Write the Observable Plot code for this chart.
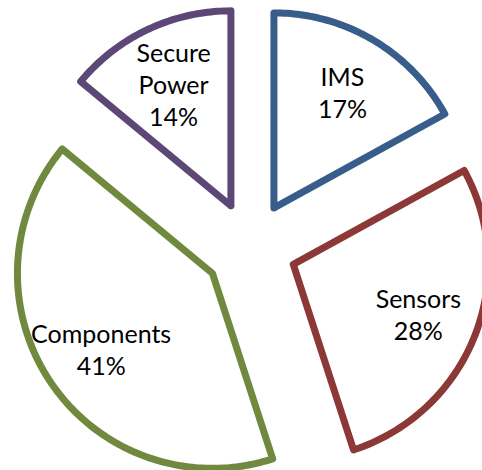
<!DOCTYPE html>
<html>
<head>
<meta charset="utf-8">
<script src="https://cdn.jsdelivr.net/npm/d3@7"></script>
<script src="https://cdn.jsdelivr.net/npm/@observablehq/plot@0.6"></script>
<style>
  html, body { margin: 0; padding: 0; background: #fff; }
</style>
</head>
<body>
<div id="chart"></div>
<script>
const categories = ["IMS", "Sensors", "Components", "Secure Power"];
const shares = [17, 28, 41, 14];
const colors = ["#385D8A", "#8C3836", "#71893F", "#5C4776"];

const explode = 0.236;     // offset of each slice, in radii
const labelAt = 0.69;      // label distance from slice apex, in radii

const pie = d3.pie().sort(null).value(d => d.share)(
  categories.map((c, i) => ({category: c, share: shares[i], color: colors[i]}))
);

const outline = [];
const labels = [];
for (const s of pie) {
  const mid = (s.startAngle + s.endAngle) / 2;
  const ax = explode * Math.sin(mid), ay = explode * Math.cos(mid);
  outline.push({category: s.data.category, x: ax, y: ay});
  const n = Math.max(2, Math.ceil((s.endAngle - s.startAngle) / (Math.PI / 180)));
  for (let k = 0; k <= n; k++) {
    const a = s.startAngle + (s.endAngle - s.startAngle) * k / n;
    outline.push({category: s.data.category, x: ax + Math.sin(a), y: ay + Math.cos(a)});
  }
  outline.push({category: s.data.category, x: ax, y: ay});
  labels.push({
    category: s.data.category,
    x: ax + labelAt * Math.sin(mid),
    y: ay + labelAt * Math.cos(mid),
    text: s.data.category.replace(" ", "\n") + "\n" + s.data.share + "%"
  });
}

const chart = Plot.plot({
  width: 482,
  height: 470,
  margin: 0,
  x: {domain: [-250 / 195, 232 / 195], axis: null},
  y: {domain: [-223 / 195, 247 / 195], axis: null},
  color: {domain: categories, range: colors},
  style: {background: "#fff"},
  marks: [
    Plot.line(outline, {
      x: "x", y: "y", z: "category",
      stroke: "category", fill: "white",
      strokeWidth: 7, strokeLinejoin: "round", strokeLinecap: "round"
    }),
    Plot.text(labels, {
      x: "x", y: "y", text: "text",
      fontSize: 25, lineHeight: 1.28,
      fontFamily: "Lato, 'Open Sans', sans-serif",
      fill: "#000"
    })
  ]
});
document.getElementById("chart").appendChild(chart);
</script>
</body>
</html>
